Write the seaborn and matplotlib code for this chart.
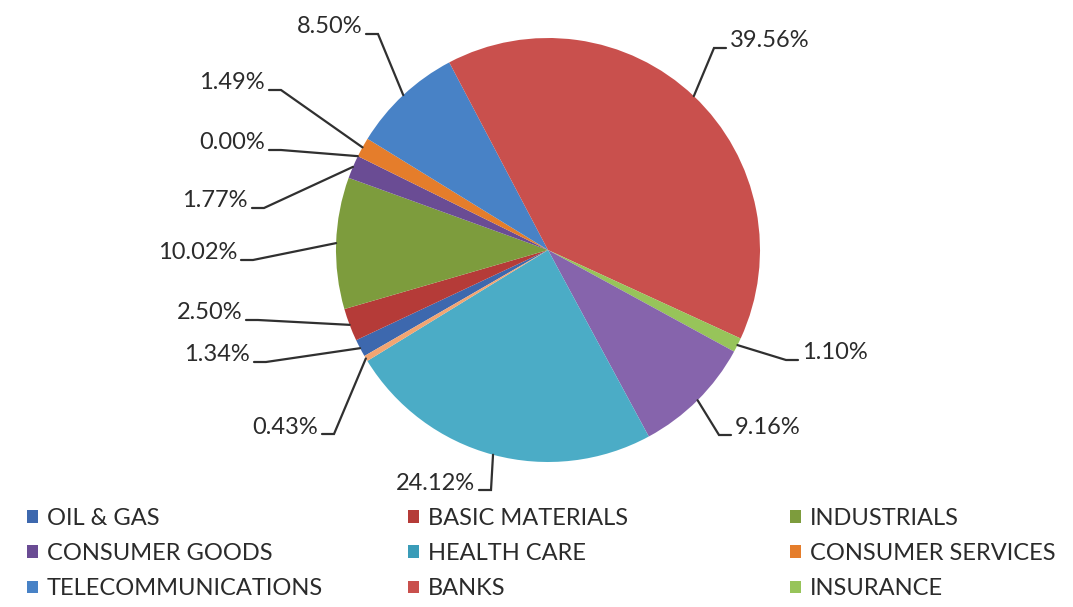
import matplotlib
matplotlib.use("Agg")
import matplotlib.pyplot as plt
import numpy as np
import seaborn as sns

# sector weights (%) in slice order, clockwise
shares = [1.34, 2.50, 10.02, 1.77, 0.00, 1.49, 8.50, 39.56, 1.10, 9.16, 24.12, 0.43]
legend_labels = ["OIL & GAS", "BASIC MATERIALS", "INDUSTRIALS",
                 "CONSUMER GOODS", "HEALTH CARE", "CONSUMER SERVICES",
                 "TELECOMMUNICATIONS", "BANKS", "INSURANCE"]
slice_colors = ["#3D68AE", "#B53B38", "#7D9C3D", "#6A4C94", "#3A9CB8", "#E57D2B",
                "#4882C6", "#C9504D", "#97C45A", "#8664AC", "#4BACC6", "#F2A572"]

# label layout in pixels: (side, text edge x, text centre y)
label_pos = [("r", 250, 355), ("r", 242, 313), ("r", 237, 253), ("r", 248, 201),
             ("r", 265, 143), ("r", 265, 83), ("r", 362, 27), ("l", 730, 41),
             ("l", 802, 353), ("l", 735, 428), ("r", 475, 483), ("r", 318, 427)]

W, H = 1073, 607
CX, CY, R = 548, 250, 212


def px(x, y):
    return (x - CX) / R, (CY - y) / R


sns.set_theme(style="white")
plt.rcParams["font.family"] = ["Lato", "DejaVu Sans"]
text_color = "#2b2b2b"

fig = plt.figure(figsize=(W / 100, H / 100), dpi=100)
ax = fig.add_axes([0, 0, 1, 1])
wedges, _ = ax.pie(shares, colors=slice_colors, startangle=210, counterclock=False,
                   radius=1, wedgeprops=dict(linewidth=0))
ax.set_xlim(px(0, 0)[0], px(W, 0)[0])
ax.set_ylim(px(0, H)[1], px(0, 0)[1])
ax.set_aspect("equal")
ax.set_axis_off()

# data labels with elbow leader lines, Excel style
for w, v, (side, tx, ty) in zip(wedges, shares, label_pos):
    ang = np.deg2rad((w.theta1 + w.theta2) / 2)
    sx, sy = np.cos(ang), np.sin(ang)
    ly = ty + 7
    if side == "r":
        end, elbow, ha = tx + 4, tx + 16, "right"
    else:
        end, elbow, ha = tx - 4, tx - 16, "left"
    ex, ey = px(elbow, ly)
    fx, fy = px(end, ly)
    ax.plot([sx, ex, fx], [sy, ey, fy], color="#303030", lw=1.6,
            solid_joinstyle="miter")
    x0, y0 = px(tx, ty)
    ax.text(x0, y0, f"{v:.2f}%", ha=ha, va="center", fontsize=17,
            color=text_color)

# legend: three columns, filled row-wise
col_x = [27, 408, 790]
for c in range(3):
    idx = [c, c + 3, c + 6]
    fig.legend([wedges[i] for i in idx], [legend_labels[i] for i in idx],
               loc="upper left", bbox_to_anchor=(col_x[c] / W, 1 - 508 / H),
               frameon=False, fontsize=17, handlelength=0.45, handleheight=0.45,
               handletextpad=0.4, labelspacing=0.6, borderpad=0,
               borderaxespad=0, labelcolor=text_color)

fig.savefig("out.png", dpi=100)
